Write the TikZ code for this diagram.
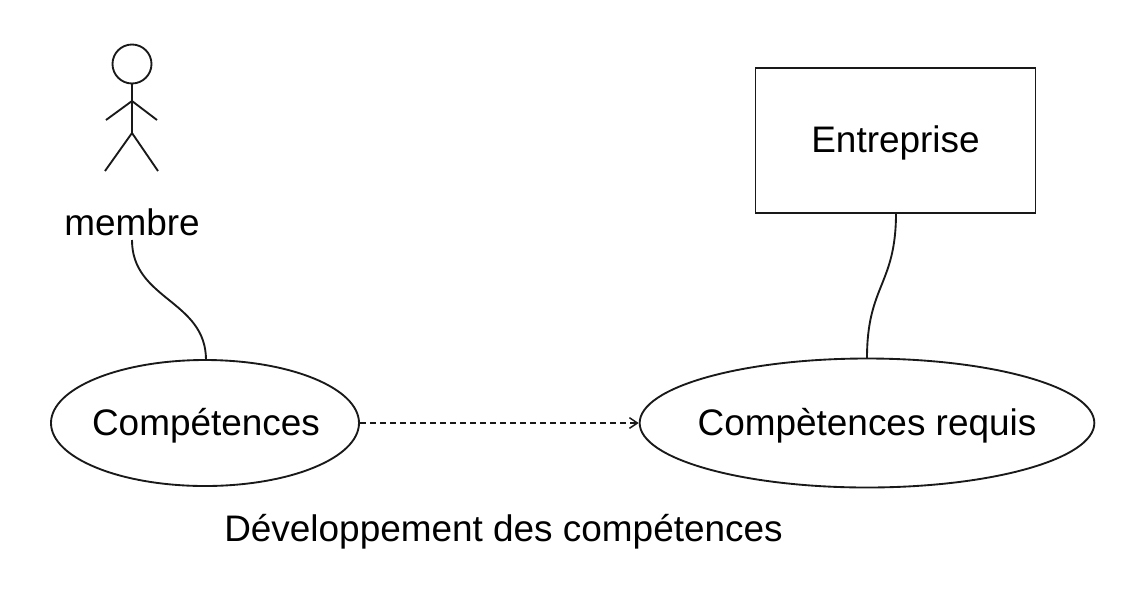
\documentclass[tikz,border=0pt]{standalone}
\usepackage{fontspec}
\setmainfont{Liberation Sans}
\usetikzlibrary{shapes.geometric,arrows.meta}
\tikzset{
 px/.style={x=0.75pt,y=-0.75pt},
 ln/.style={draw=black!90,line width=1.4pt},
 txt/.style={font=\fontsize{27.7pt}{32pt}\selectfont},
 usecase/.style={ellipse,ln,inner sep=0pt,txt,text=black},
 lbl/.style={inner sep=0pt,txt},
}
\begin{document}
\begin{tikzpicture}[px]
\useasboundingbox (0,0) rectangle (1135,615);
\fill[white] (0,0) rectangle (1135,615);
\node[ln,txt,text=black,minimum width=210pt,minimum height=109pt,inner sep=0pt,anchor=center] (ent) at (895.5,140.5) {};
\node[lbl] (entl) at (895.5,143) {Entreprise};
\node[usecase,minimum width=231pt,minimum height=94.5pt] (c1) at (205,423) {};
\node[lbl] (c1l) at (206,425.5) {Compétences};
\node[usecase,minimum width=341pt,minimum height=96.75pt] (c2) at (867,423) {};
\node[lbl] (c2l) at (867,425.5) {Compètences requis};
\node[lbl] (mem) at (132,222) {membre};
\node[lbl] (dev) at (503.5,531.5) {Développement des compétences};
\coordinate (h) at (132,64);
\draw[ln] (h) circle[radius=19.5];
\coordinate (neck) at (132,83.5);
\coordinate (hip) at (132,133);
\coordinate (al) at (106,120);
\coordinate (ar) at (157,120);
\coordinate (sh) at (132,101);
\coordinate (fl) at (105,171);
\coordinate (fr) at (158,171);
\draw[ln] (neck) -- (hip) (al) -- (sh) -- (ar) (fl) -- (hip) -- (fr);
\coordinate (m1) at (132,240);
\coordinate (c1t) at (206,360);
\draw[ln] (m1) .. controls (132,300) and (206,300) .. (c1t);
\coordinate (e1) at (896,213);
\coordinate (c2t) at (867,358);
\draw[ln] (e1) .. controls (896,285) and (867,285) .. (c2t);
\draw[draw=black!90,line width=1.1pt,dash pattern=on 4.5pt off 3pt,-{Straight Barb[length=6pt,width=8pt]}] (c1) -- (c2);
\end{tikzpicture}
\end{document}
